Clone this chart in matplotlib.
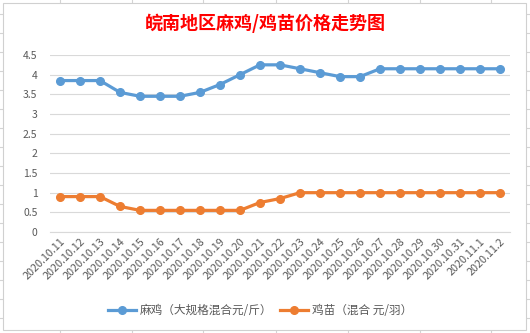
import matplotlib.pyplot as plt
from matplotlib.patches import Rectangle

plt.rcParams['font.family'] = ['Noto Sans CJK SC', 'DejaVu Sans']

dates = ['2020.10.11', '2020.10.12', '2020.10.13', '2020.10.14', '2020.10.15',
         '2020.10.16', '2020.10.17', '2020.10.18', '2020.10.19', '2020.10.20',
         '2020.10.21', '2020.10.22', '2020.10.23', '2020.10.24', '2020.10.25',
         '2020.10.26', '2020.10.27', '2020.10.28', '2020.10.29', '2020.10.30',
         '2020.10.31', '2020.11.1', '2020.11.2']
maji = [3.85, 3.85, 3.85, 3.55, 3.45, 3.45, 3.45, 3.55, 3.75, 4.0,
        4.25, 4.25, 4.15, 4.05, 3.95, 3.95, 4.15, 4.15, 4.15, 4.15,
        4.15, 4.15, 4.15]
jimiao = [0.9, 0.9, 0.9, 0.65, 0.55, 0.55, 0.55, 0.55, 0.55, 0.55,
          0.75, 0.85, 1.0, 1.0, 1.0, 1.0, 1.0, 1.0, 1.0, 1.0,
          1.0, 1.0, 1.0]
yticks = [0, 0.5, 1, 1.5, 2, 2.5, 3, 3.5, 4, 4.5]

W, H = 530, 333
fig = plt.figure(figsize=(W / 100, H / 100), dpi=100)

# spreadsheet cell grid peeking out around the chart (pixel coords, y downward)
bg = fig.add_axes([0, 0, 1, 1], zorder=0)
bg.set_xlim(0, W)
bg.set_ylim(H, 0)
bg.axis('off')
for gx in [60, 132, 203, 276, 348, 420, 491]:
    bg.plot([gx, gx], [0, 3], color='#d4d4d4', lw=0.8)
    bg.plot([gx, gx], [330, H], color='#d4d4d4', lw=0.8)
for gy in range(14, H, 19):
    bg.plot([0, 3], [gy, gy], color='#d4d4d4', lw=0.8)
    bg.plot([526, W], [gy, gy], color='#d4d4d4', lw=0.8)
bg.add_patch(Rectangle((3, 3), 523, 327, facecolor='white', edgecolor='#d0d0d0',
                       lw=0.8, zorder=5))

ax = fig.add_axes([50 / W, 1 - 232 / H, 460 / W, 177 / H], zorder=2)
ax.patch.set_alpha(0)
x = range(len(dates))
ax.plot(x, maji, color='#5B9BD5', lw=2.3, marker='o', ms=5.5, label='麻鸡（大规格混合元/斤）')
ax.plot(x, jimiao, color='#ED7D31', lw=2.3, marker='o', ms=5.5, label='鸡苗（混合 元/羽）')

ax.set_xlim(-0.5, len(dates) - 0.5)
ax.set_ylim(0, 4.5)
ax.set_yticks(yticks)
ax.set_yticklabels([f'{v:g}' for v in yticks])
ax.grid(axis='y', color='#d9d9d9', lw=0.8)
ax.set_axisbelow(True)
for s in ['left', 'right', 'top']:
    ax.spines[s].set_visible(False)
ax.spines['bottom'].set_color('#d9d9d9')
ax.spines['bottom'].set_linewidth(0.8)
ax.tick_params(axis='y', length=0, pad=9, labelsize=7.5, labelcolor='#595959')
ax.tick_params(axis='x', length=0, pad=3, labelsize=7.8, labelcolor='#595959')
ax.set_xticks(list(x))
ax.set_xticklabels(dates, rotation=45, ha='right', rotation_mode='anchor')

fig.text(0.5, 1 - 23 / H, '皖南地区麻鸡/鸡苗价格走势图', color='red', fontsize=13,
         fontweight='bold', ha='center', va='center')

ax.legend(loc='center', bbox_to_anchor=(260 / W, 1 - 311 / H), bbox_transform=fig.transFigure,
          ncol=2, frameon=False, fontsize=8.4, labelcolor='#595959', handlelength=2.4,
          columnspacing=0.7, handletextpad=0.3)

fig.savefig('out.png', dpi=100)
